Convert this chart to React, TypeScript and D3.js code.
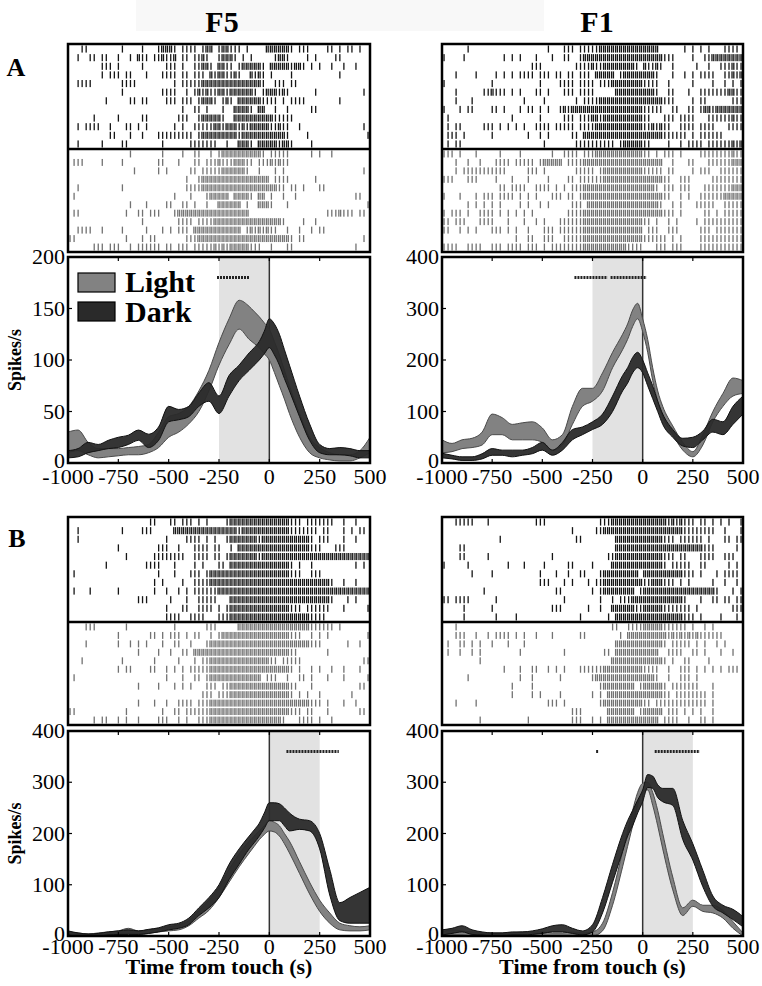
import * as d3 from 'd3';

const FONT = '"Liberation Serif", "Times New Roman", serif';

// x axis of every PSTH (ms from touch)
const xTicks = [-1000, -750, -500, -250, 0, 250, 500];
const yTicks200 = [0, 50, 100, 150, 200];
const yTicks400 = [0, 100, 200, 300, 400];

// sample times of the PSTH bands
const psthTimes = [
  -1000, -950, -900, -850, -800, -750, -700, -650, -600, -550, -500, -450, -400, -350, -300, -250, -200, -150,
  -100, -75, -50, -25, 0, 25, 50, 75, 100, 150, 200, 250, 300, 350, 400, 450, 500,
];

// A / F5
const f5aLightLo = [10, 12, 8, 5, 6, 7, 8, 8, 10, 15, 25, 30, 38, 50, 70, 95, 115, 130, 120, 116, 112, 106, 100, 88, 75, 62, 48, 25, 10, 5, 3, 2, 2, 5, 10];
const f5aLightHi = [30, 32, 20, 14, 14, 14, 15, 16, 18, 30, 45, 48, 55, 70, 90, 117, 140, 158, 152, 147, 142, 136, 130, 118, 105, 90, 75, 48, 25, 15, 10, 8, 8, 12, 25];
const f5aDarkLo = [5, 6, 10, 12, 14, 15, 18, 22, 15, 22, 40, 42, 45, 55, 60, 48, 65, 80, 90, 95, 100, 106, 112, 105, 95, 82, 70, 45, 22, 10, 8, 8, 7, 5, 5];
const f5aDarkHi = [12, 14, 20, 18, 22, 25, 27, 32, 28, 35, 55, 52, 55, 68, 78, 65, 85, 95, 107, 112, 118, 128, 140, 135, 125, 110, 95, 65, 38, 18, 14, 15, 14, 12, 12];

// A / F1
const f1aLightLo = [20, 22, 28, 30, 35, 55, 55, 45, 45, 45, 40, 25, 35, 75, 110, 120, 140, 185, 220, 240, 265, 280, 255, 215, 160, 120, 90, 55, 25, 12, 35, 80, 110, 130, 135];
const f1aLightHi = [45, 38, 45, 48, 60, 95, 88, 75, 78, 80, 68, 45, 55, 110, 145, 145, 175, 215, 250, 270, 297, 310, 280, 240, 185, 140, 110, 72, 40, 22, 55, 100, 135, 165, 160];
const f1aDarkLo = [10, 8, 5, 5, 8, 15, 15, 12, 15, 18, 25, 15, 25, 45, 55, 65, 75, 100, 140, 155, 175, 185, 175, 150, 125, 100, 75, 50, 33, 30, 45, 60, 55, 75, 95];
const f1aDarkHi = [19, 15, 12, 12, 18, 28, 25, 25, 25, 30, 40, 25, 40, 65, 70, 80, 95, 130, 170, 185, 205, 215, 200, 175, 150, 120, 95, 65, 48, 50, 62, 85, 80, 110, 130];

// B / F5
const f5bLightLo = [0, 0, 0, 0, 2, 3, 5, 3, 5, 8, 10, 12, 20, 35, 50, 75, 105, 135, 162, 175, 188, 198, 205, 203, 195, 180, 162, 122, 82, 48, 25, 12, 10, 10, 12];
const f5bLightHi = [8, 6, 4, 6, 8, 10, 15, 10, 12, 15, 18, 22, 30, 50, 70, 95, 130, 160, 185, 195, 205, 215, 225, 222, 215, 200, 185, 145, 105, 70, 45, 25, 20, 18, 20];
const f5bDarkLo = [2, 0, 0, 0, 2, 3, 3, 3, 5, 8, 12, 15, 22, 40, 55, 75, 110, 140, 170, 182, 195, 210, 225, 225, 225, 215, 205, 208, 205, 170, 80, 30, 25, 25, 25];
const f5bDarkHi = [10, 6, 4, 5, 8, 10, 12, 10, 13, 16, 22, 25, 35, 55, 75, 100, 140, 170, 195, 207, 220, 240, 260, 260, 258, 250, 240, 228, 225, 200, 130, 65, 75, 85, 95];

// B / F1
const f1bLightLo = [0, 2, 2, 0, 0, 0, 0, 0, 0, 0, 0, 0, 0, 0, 0, 0, 10, 60, 135, 175, 215, 255, 280, 285, 255, 215, 170, 90, 40, 58, 48, 45, 35, 15, 0];
const f1bLightHi = [8, 12, 10, 8, 6, 6, 6, 6, 8, 8, 8, 6, 6, 8, 6, 8, 25, 85, 165, 205, 245, 280, 298, 300, 280, 245, 200, 115, 55, 70, 60, 60, 50, 28, 6];
const f1bDarkLo = [2, 5, 8, 3, 2, 0, 0, 2, 2, 3, 5, 8, 8, 5, 2, 8, 45, 105, 165, 195, 215, 240, 262, 290, 288, 270, 262, 255, 188, 148, 96, 58, 45, 32, 18];
const f1bDarkHi = [12, 15, 20, 12, 8, 6, 6, 8, 8, 10, 14, 20, 22, 15, 10, 22, 75, 140, 200, 225, 245, 265, 285, 315, 312, 295, 288, 288, 225, 180, 128, 78, 60, 52, 38];

// significance bars [from, to] in ms
const f5aSig = [[-260, -100]];
const f1aSig = [[-340, -175], [-160, 20]];
const f5bSig = [[85, 345]];
const f1bSig = [[-232, -218], [60, 285]];

// raster rows: one char per 20 ms bin from -1000 ms ('.' none, '1' one spike, '2' two spikes)
const f5aTop = [
  '...11 ..... ...1. ...1. ..122 21.11 11.12 2.122 111.1 ....2 22222 1.111 ....1 1.1.1 1.1..',
  '..1.. 11.11 ..1.. 1.211 .1121 12.11 .1121 ..122 21.1. 1.... .1221 ....1 .1... .11.. .....',
  '..... ...11 1.1.. ...1. ....1 11.1. .1122 1.221 1.122 2221. 22222 1221. 1.1.. 1..1. .1...',
  '..... ...1. 111.1 1...1 ...11 11.11 .111. 21221 121.. 2121. 1.... 1.... ..... ..1.. .....',
  '..111 1.... ...11 11... ..... .1.11 11122 22222 22222 2221. .111. 11... ..... ..... .....',
  '..... ..... ...1. ..... ...11 11..1 .1212 11221 22222 21.12 22121 ..... .1... ..... ...1.',
  '..... ....1 ..... 11.11 ....1 11.11 1.122 21.12 1.222 22211 11.1. 1111. ..... ..1.. .....',
  '..... ..... ..... ..... ..... ...1. .11.1 ...1. .2222 1.22. .1..1 ..... 11... ..... .....',
  '..... .1... ..1.. ...11 ..... ..111 ..122 2221. .2222 22222 21111 1.... ..... ..... .....',
  '..1.1 111.. 1...1 1.1.1 ..... .1.1. .1111 12212 22121 22222 11211 ..1.. ..... ..... ...1.',
  '..... ..... 11... 1..1. ..111 11111 1.122 22222 22122 22222 22221 ....1 ..... ..... ....1',
  '..1.. ...1. ...11 ..... ...1. ..... 11111 11..1 ..222 1.222 22122 1.... 1.... ..... .....',
];
const f5aBottom = [
  '..... ..... ..... 1.... ...1. ...1. .11.. 1.122 22222 2221. 11111 ..... 1.1.. 1.... .....',
  '.111. ...1. ...1. ..... ..11. ..1.. .11.1 11211 12221 1.111 21211 ..... ..... ..... .....',
  '..... ..... ..... .1... ..1.1 ..... 11.11 11122 22221 ..1.. .1.1. ..... ..... ..... ...1.',
  '..... ..... ..... ..... ..... ....1 ..122 22222 22222 22222 .1111 ..... .1... ..... .....',
  '..1.. ..... ...1. ..... ..... ....1 11122 22222 22222 22222 2211. 11.1. ..11. ..... .....',
  '.1... ..... ..... ..... ..... .1... 1...1 22222 .2222 1.22. 1..1. .1... ..... ..... .11..',
  '..... ..... ..... 1...1 ....1 1..11 .1..1 ..222 222.1 ..222 1...1 ..... ..... ..... ....1',
  '.11.. ..... ....1 ..11. 111.. .1222 22222 22222 22222 ..... ..... ..... ....1 11211 1.11.',
  '..... ..... ..... ...1. ..... ..111 1.111 12222 22222 22222 2221. ...1. .1... ..... .....',
  '..111 1..1. ...1. ....1 ...1. 1.111 .2222 22222 222.1 21212 11..1 ..1.. 1.11. ..... .....',
  '11... ..... ....1 ...1. 11... ....1 11222 22222 22222 22222 22222 1.11. ..... ..... ...1.',
  '..... .111. 111.. 1.111 111.1 1.111 .1111 12121 22222 111.. 1...1 1.... ..... ..... .1...',
];
const f1aTop = [
  '..... .1... ..... ..... ..... .1... 111.1 11112 22222 22222 2222. ..... 1.1.1 .1... 1111.',
  '1.... 1.... ..... 1.1.1 ...1. ..1.. 11..1 22222 22222 22222 22222 111.. ..1.. 11222 22222',
  '..... ..... ..... ..... ..111 ..... ...11 11211 22222 2221. 21121 ..1.. ...1. .1..1 11211',
  '...1. ...1. ...1. 1.1.1 111.1 11.11 .11.1 11.22 222.1 22222 2221. ..1.. 1.1.1 111.. 11212',
  '1.... ..... ..1.. ..... ....1 ....1 111.1 111.1 11222 22222 1111. .1... ..1.. ..1.. 1.1.1',
  '...1. ..... 11211 1.1.1 ...11 .1... 111.1 111.. ...22 22222 2221. .11.. .1..1 11111 12211',
  '...1. ..1.. ..... ..... 1.... 1.... ...1. 11112 22222 22222 22222 111.. ..1.1 1.... ..111',
  '1...1 .11.. ..11. 1...1 .11.1 .1..1 21222 22222 22222 22222 11111 ..11. .11.1 22122 22222',
  '.1... ..... ..... ..1.. ....1 ..... 111.1 11221 22222 22222 11... 111.1 111.. .1111 11211',
  '.1.11 ..... 111.1 .1.1. 1..11 11.11 111.1 11122 22222 22222 11212 11..1 111.1 111.. .1111',
  '.111. 1.... ..1.. ..... .1..1 .1... ..11. 22222 22222 22222 22222 11111 1.1.1 11111 .....',
  '.1.11 ..... ..... ..... ..... 1.... ...11 11111 111.1 22222 11... .1..1 .1111 .1111 11212',
];
const f1aBottom = [
  '111.1 ...1. ....1 ....1 ..... ..1.. 1111. 11122 22222 22222 11.1. 111.1 ....1 11111 11211',
  '...1. .1..1 ...11 11.11 111.1 22222 .1111 22222 22222 22222 22222 ..1.. .11.. .1111 11222',
  '...1. 11111 11111 1.... .111. 1.... ...11 111.1 22222 22222 11111 .11.. ..1.1 11..1 11111',
  '111.. .111. ...1. ..1.. .1... .1... .11.1 11111 22222 22222 22222 11..1 11... ..111 11111',
  '..... ..... ....1 1.111 1..11 11.1. 1.111 22222 22222 22222 2221. 111.1 11... 11111 11222',
  '1...1 ...1. 111.1 111.1 .1.1. ..111 .11.1 22222 22222 22222 22222 11..1 .1..1 11111 22222',
  '..... .1.1. 1.1.1 ....1 .1..1 .1... ..111 .2222 22222 22222 22221 ..1.1 ...11 111.. 11111',
  '1.111 .1..1 111.1 .1.1. 1.1.. ..... .1111 22222 22222 22222 22222 111.1 ..... 11.1. 11111',
  '11.11 1...1 111.. .1... 1..1. 1...1 11111 22222 22222 22222 11.1. .1.1. ...1. 11111 11111',
  '11..1 .1.1. ..111 .1.1. .1... 111.1 11111 22222 22222 22222 .111. .111. ....1 11.11 11111',
  '..... ..... ..... ...1. .11.. 111.. 11111 22222 22222 22222 11111 1.1.1 ....1 11111 11111',
  '1111. .1111 ..111 .1111 .111. 1.111 11111 22222 22222 21111 ...11 1.111 ....1 11111 11111',
];
const f5bTop = [
  '..... ..... ..... ..... 11... 11.11 1.1.1 ....1 22222 22222 22222 111.1 11111 1..1. .1...',
  '..1.. ..... ...1. ...11 1.... .2222 22222 22222 22122 22222 22222 11111 11.11 ...1. 1.11.',
  '..1.. ..... ..... ..... ....1 ....1 111.1 .1..1 22222 22122 22222 22222 1.111 ...1. .1...',
  '..... ..... ..1.. ..... ..111 ..1.. .1111 .11.. 1.222 22222 22222 22222 111.. .111. .....',
  '..... ..... ....1 ..... .1111 1111. .1111 .11.1 22222 22122 22222 22222 22222 22222 22222',
  '..... ....1 ..... ....1 111.. .1... .1.1. ..11. 22222 22222 22222 1.1.. 1.... ..... .1.1.',
  '.1... ..... ..... ..... ..1.. .1... 111.1 22222 22222 22222 22222 111.. 111.. ..... .....',
  '..... ..... ..... ..... .1.1. ...1. .1111 22222 22222 22222 22222 22222 22222 1..1. .1...',
  '.1... 1.... ..1.. ..... .1..1 ..1.1 .1111 11222 22222 22222 22222 22222 22222 22222 22222',
  '..... ..... ..... ..111 ..... 1...1 ..111 11... 22222 22222 22222 22222 22222 1...1 .1...',
  '..... ..... ..... ..... ....1 ...11 ..111 1.1.1 22222 22222 22222 111.1 11111 ...1. ....1',
  '..... ..... ..... ..... ....1 111.. 1111. ..111 22222 22222 22222 22222 1111. ..... .....',
];
const f5bBottom = [
  '....1 11... ....1 ..... ..... .1... ....1 11... ..222 22222 22222 22222 11111 1.1.. .....',
  '..... ..... ..1.. ..... 11.1. 111.1 .11.. 1.122 22222 22222 22222 111.. 1.1.1 ..... ....1',
  '....1 ..... ..1.. 1.1.1 ...1. .11.. 1...1 22222 22222 22222 22222 22222 111.. ....1 ..1..',
  '..... ..... ..... ..1.. ..1.. 1..11 .2222 22222 22222 22222 22222 11... ....1 ..... .....',
  '...1. ..... ...1. ..... .1... ..1.. .1.11 22222 22222 22222 11.11 111.. ..... ..... ...11',
  '..... ..... ..1.1 1.... 11..1 .1.1. 11111 22222 22222 22222 22222 1.1.. 1.1.. 1..1. ..1..',
  '.1... ..... ..... ..... ....1 ...1. .11.1 22222 22222 222.1 11..1 ..11. 1...1 ...1. ....1',
  '..... ..... ..... ..1.. ..1.. .1.1. 1...1 11.11 22222 22222 22222 11... 1.... ..... ..11.',
  '..... ..... ..... ..... ..... ..... ...11 1.111 22222 22222 22222 1.1.1 ..1.. ..... 1....',
  '..... ..... ..... ..1.. .1..1 ..111 1.111 22222 22222 22222 22222 22222 111.1 ...1. .1...',
  '11... ..... ....1 ..... ...1. .11.1 11111 22222 22222 22222 22222 111.1 1...1 ..... ..11.',
  '..... .1.11 ..1.1 ..1.. ..111 ..1.1 ..111 22222 22222 22222 2221. ..111 1.1.. 1.... .....',
];
const f1bTop = [
  '...11 111.. .1... ..... ...11 1.... ..... ....1 11222 22222 22222 21212 111.1 1.1.1 .1..1',
  '..... ..... ..... ..... ..... ..... ..1.. ...11 22222 22222 22222 22222 11111 111.. 1...1',
  '..... ..... ....1 ..... ..... ..... ...11 ..... ...22 22222 22222 111.1 11111 .1... 11.11',
  '....1 1.... ..... ..... ..... ..... ..... ..... ...22 22222 22222 22222 22222 111.. ...1.',
  '....1 1.... .1... ..... ..... ..1.. ..... ..... .1122 22222 22222 111.1 1...1 111.. 111..',
  '1.... .1... ..... .1... 1.... 1.... .11.. ..1.. ..222 22222 22222 1.111 11..1 1.... .1.1.',
  '..... ..1.. ..1.. ..... ....1 ...1. .1..1 1...1 22222 2222. 22222 22222 111.1 ...1. 1111.',
  '..... ..... ..... ..... ....1 11... 1.1.. .1.11 22222 22222 11222 111.1 .1... ..1.. 1..1.',
  '..... ..... 1.... ..... ..... ...11 ..... ..1.1 22222 222.1 22222 22222 22222 2221. ..1.1',
  '11.11 11... ...1. ..... ..... ..... 1.... ....1 ..1.1 11222 22222 22222 1...1 ..11. 11.11',
  '..... 1.... ..1.. ..... ..... ..111 ..... .1..1 ..222 22211 22222 11111 11.1. ..... ..111',
  '..... 1.... ...1. ...1. ..... ..... ....1 ..... .1.22 22222 22222 22222 111.1 ....1 ...1.',
];
const f1bBottom = [
  '...1. ..... ..... ..... ..... ..... ..... ..... ..11. .1111 22222 11111 1.1.. 1.1.. .....',
  '...11 1..1. .1.11 11.1. 1..1. ..1.. ....1 1.... ....1 .2222 22222 21212 12121 11111 .....',
  '.1..1 1.1.1 ..1.. .1... 1.... ..... ..... ..... ...22 22222 22222 1.111 11.1. 1..1. 1....',
  '.1..1 ..1.1 ..... ....1 ..... ..... 1.... ..... 11.22 22222 2222. .1111 ..11. 1...1 ..1..',
  '..... ....1 ..... ..... ..... ..... ..... ..... ..222 22222 22222 1.1.. 11... .1... .....',
  '..... ..... ..... 1...1 ..11. .1.1. 1...1 11111 22222 22222 1111. .1..1 11.1. 1.1.1 .111.',
  '..... .1... ..... ....1 ..1.. ....1 ..... ..122 22222 22222 2221. .1..1 11.1. ..... .....',
  '..... ..... ..... ..1.. ..1.. ..... ..... ....1 22222 222.1 22222 1.111 1111. ..1.. .....',
  '..... ..... ..... ..1.. ..1.1 ....1 ..... ..1.1 .2222 22222 22222 11.11 11111 1.1.. .....',
  '...1. ...1. ..... ..... ..... .111. 1.... ....1 22222 22222 11.11 11111 11111 1.1.. .....',
  '..... ..... ..... ..... ..... ..... ..111 ..... .2222 222.1 22222 .111. 1.1.1 ..1.. .....',
  '..... ....1 ..... ..... .1... ..... ..111 ..1.1 .2222 22222 2222. 1111. .1..1 1.1.. .....',
];

type Panel = {
  x0: number; x1: number;
  rTop: number; rMid: number; rBottom: number;
  pTop: number; pBottom: number; labelGap: number;
  yMax: number; yTicks: number[];
  shade: number[];
  lightLo: number[]; lightHi: number[]; darkLo: number[]; darkHi: number[];
  sig: number[][];
  topRows: string[]; bottomRows: string[];
  yLabel: boolean; xTitle: boolean; legend: boolean;
};

const panels: Panel[] = [
  {
    x0: 68, x1: 370, rTop: 44, rMid: 149, rBottom: 252, pTop: 257, pBottom: 463, labelGap: 21,
    yMax: 200, yTicks: yTicks200, shade: [-250, 0],
    lightLo: f5aLightLo, lightHi: f5aLightHi, darkLo: f5aDarkLo, darkHi: f5aDarkHi,
    sig: f5aSig, topRows: f5aTop, bottomRows: f5aBottom, yLabel: true, xTitle: false, legend: true,
  },
  {
    x0: 442, x1: 743, rTop: 44, rMid: 149, rBottom: 252, pTop: 257, pBottom: 463, labelGap: 21,
    yMax: 400, yTicks: yTicks400, shade: [-250, 0],
    lightLo: f1aLightLo, lightHi: f1aLightHi, darkLo: f1aDarkLo, darkHi: f1aDarkHi,
    sig: f1aSig, topRows: f1aTop, bottomRows: f1aBottom, yLabel: false, xTitle: false, legend: false,
  },
  {
    x0: 68, x1: 370, rTop: 517, rMid: 622, rBottom: 725, pTop: 731, pBottom: 936, labelGap: 18,
    yMax: 400, yTicks: yTicks400, shade: [0, 250],
    lightLo: f5bLightLo, lightHi: f5bLightHi, darkLo: f5bDarkLo, darkHi: f5bDarkHi,
    sig: f5bSig, topRows: f5bTop, bottomRows: f5bBottom, yLabel: true, xTitle: true, legend: false,
  },
  {
    x0: 442, x1: 743, rTop: 517, rMid: 622, rBottom: 725, pTop: 731, pBottom: 936, labelGap: 18,
    yMax: 400, yTicks: yTicks400, shade: [0, 250],
    lightLo: f1bLightLo, lightHi: f1bLightHi, darkLo: f1bDarkLo, darkHi: f1bDarkHi,
    sig: f1bSig, topRows: f1bTop, bottomRows: f1bBottom, yLabel: false, xTitle: true, legend: false,
  },
];

function RasterHalf({ rows, x, y0, y1, color }: { rows: string[]; x: d3.ScaleLinear<number, number>; y0: number; y1: number; color: string }) {
  const rowY = d3.scaleBand<number>().domain(d3.range(rows.length)).range([y0 + 1.5, y1 - 1.5]).paddingInner(0.18);
  const ticks: { t: number; r: number }[] = [];
  rows.forEach((row, r) => {
    row.replace(/ /g, '').split('').forEach((c, i) => {
      const t = -1000 + i * 20;
      if (c === '1') ticks.push({ t: t + 10, r });
      if (c === '2') { ticks.push({ t: t + 5, r }); ticks.push({ t: t + 14, r }); }
    });
  });
  return (
    <g>
      {ticks.map((d, k) => (
        <rect key={k} x={x(d.t) - 0.6} y={rowY(d.r)} width={1.3} height={rowY.bandwidth()} fill={color} />
      ))}
    </g>
  );
}

function PanelView({ p, id }: { p: Panel; id: number }) {
  const x = d3.scaleLinear().domain([-1000, 500]).range([p.x0, p.x1]);
  const y = d3.scaleLinear().domain([0, p.yMax]).range([p.pBottom, p.pTop]);
  const band = (lo: number[], hi: number[]) =>
    d3.area<number>()
      .x((_, i) => x(psthTimes[i]))
      .y0((_, i) => y(lo[i]))
      .y1((_, i) => y(hi[i]))
      .curve(d3.curveMonotoneX)(lo) || '';
  const sigY = y(p.yMax * 0.9);
  return (
    <g>
      {/* raster */}
      <RasterHalf rows={p.topRows} x={x} y0={p.rTop} y1={p.rMid} color="#151515" />
      <RasterHalf rows={p.bottomRows} x={x} y0={p.rMid} y1={p.rBottom} color="#727272" />
      <rect x={p.x0} y={p.rTop} width={p.x1 - p.x0} height={p.rBottom - p.rTop} fill="none" stroke="#000" strokeWidth={2.5} />
      <line x1={p.x0} x2={p.x1} y1={p.rMid} y2={p.rMid} stroke="#000" strokeWidth={2.5} />

      {/* psth */}
      <clipPath id={`clip${id}`}>
        <rect x={p.x0} y={p.pTop} width={p.x1 - p.x0} height={p.pBottom - p.pTop} />
      </clipPath>
      <rect x={x(p.shade[0])} y={p.pTop} width={x(p.shade[1]) - x(p.shade[0])} height={p.pBottom - p.pTop} fill="#e2e2e2" />
      <line x1={x(0)} x2={x(0)} y1={p.pTop} y2={p.pBottom} stroke="#333" strokeWidth={1.5} />
      <g clipPath={`url(#clip${id})`}>
        <path d={band(p.lightLo, p.lightHi)} fill="#828282" stroke="#4a4a4a" strokeWidth={1} />
        <path d={band(p.darkLo, p.darkHi)} fill="#2a2a2a" stroke="#111" strokeWidth={1} fillOpacity={0.95} />
      </g>
      {p.sig.map(([a, b], k) => (
        <line key={k} x1={x(a)} x2={x(b)} y1={sigY} y2={sigY} stroke="#222" strokeWidth={3} strokeDasharray="2 1" />
      ))}
      <rect x={p.x0} y={p.pTop} width={p.x1 - p.x0} height={p.pBottom - p.pTop} fill="none" stroke="#000" strokeWidth={2.5} />

      {xTicks.map((v) => (
        <g key={v}>
          <line x1={x(v)} x2={x(v)} y1={p.pBottom} y2={p.pBottom - 4} stroke="#000" strokeWidth={1.2} />
          <line x1={x(v)} x2={x(v)} y1={p.pTop} y2={p.pTop + 4} stroke="#000" strokeWidth={1.2} />
          <text x={x(v)} y={p.pBottom + p.labelGap} textAnchor="middle" fontFamily={FONT} fontSize={22}>{v}</text>
        </g>
      ))}
      {p.yTicks.map((v) => (
        <g key={v}>
          <line x1={p.x0} x2={p.x0 + 4} y1={y(v)} y2={y(v)} stroke="#000" strokeWidth={1.2} />
          <text x={p.x0 - 3} y={y(v) + (v === 0 ? 5 : 7)} textAnchor="end" fontFamily={FONT} fontSize={22}>{v}</text>
        </g>
      ))}
      {p.yLabel && (
        <text transform={`translate(21,${(p.pTop + p.pBottom) / 2}) rotate(-90)`} textAnchor="middle" fontFamily={FONT} fontWeight="bold" fontSize={18}>Spikes/s</text>
      )}
      {p.xTitle && (
        <text x={(p.x0 + p.x1) / 2} y={p.pBottom + 38} textAnchor="middle" fontFamily={FONT} fontWeight="bold" fontSize={22}>Time from touch (s)</text>
      )}
      {p.legend && (
        <g fontFamily={FONT} fontWeight="bold" fontSize={30}>
          <rect x={78} y={273} width={37} height={19} fill="#828282" stroke="#000" strokeWidth={1.2} />
          <rect x={78} y={302} width={37} height={19} fill="#2a2a2a" stroke="#000" strokeWidth={1.2} />
          <text x={125} y={292}>Light</text>
          <text x={125} y={322}>Dark</text>
        </g>
      )}
    </g>
  );
}

export default function App() {
  return (
    <svg width={762} height={986} style={{ position: 'absolute', left: 0, top: 0, background: '#fff' }}>
      <rect x={0} y={0} width={762} height={986} fill="#fff" />
      <rect x={136} y={0} width={408} height={31} fill="#f8f8f8" />
      <text x={222} y={32} textAnchor="middle" fontFamily={FONT} fontWeight="bold" fontSize={30}>F5</text>
      <text x={597} y={32} textAnchor="middle" fontFamily={FONT} fontWeight="bold" fontSize={30}>F1</text>
      <text x={16} y={76} textAnchor="middle" fontFamily={FONT} fontWeight="bold" fontSize={26}>A</text>
      <text x={17} y={547} textAnchor="middle" fontFamily={FONT} fontWeight="bold" fontSize={26}>B</text>
      {panels.map((p, i) => <PanelView key={i} p={p} id={i} />)}
    </svg>
  );
}
